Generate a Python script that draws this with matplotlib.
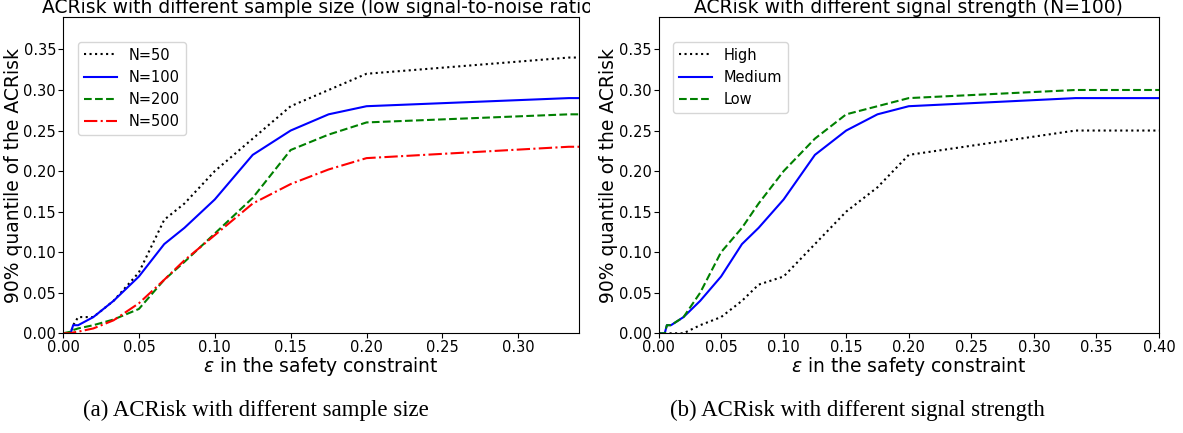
import numpy as np
import matplotlib
matplotlib.use('Agg')
import matplotlib.pyplot as plt
from matplotlib.ticker import FormatStrFormatter
from matplotlib.transforms import Bbox

# epsilon grid used in both experiments
eps = [0.0, 0.005, 0.0067, 0.01, 0.02, 0.0333, 0.05, 0.0667, 0.08, 0.1,
       0.125, 0.15, 0.175, 0.2, 0.3333, 0.4]

# (a) different sample sizes, low signal-to-noise ratio
n50 = [0.0, 0.0, 0.01, 0.02, 0.02, 0.04, 0.075, 0.14, 0.16, 0.2,
       0.24, 0.28, 0.30, 0.32, 0.34, 0.34]
n100 = [0.0, 0.0, 0.01, 0.01, 0.02, 0.04, 0.07, 0.11, 0.13, 0.165,
        0.22, 0.25, 0.27, 0.28, 0.29, 0.29]
n200 = [0.0, 0.002, 0.004, 0.006, 0.01, 0.017, 0.03, 0.066, 0.088, 0.123,
        0.167, 0.226, 0.245, 0.26, 0.27, 0.27]
n500 = [0.0, 0.0, 0.001, 0.002, 0.006, 0.016, 0.037, 0.066, 0.09, 0.121,
        0.16, 0.184, 0.202, 0.216, 0.23, 0.23]

# (b) different signal strengths, N=100
high = [0.0, 0.0, 0.0, 0.0, 0.0, 0.01, 0.02, 0.04, 0.06, 0.07,
        0.11, 0.15, 0.18, 0.22, 0.25, 0.25]
medium = n100
low = [0.0, 0.0, 0.01, 0.01, 0.02, 0.05, 0.10, 0.13, 0.16, 0.20,
       0.24, 0.27, 0.28, 0.29, 0.30, 0.30]

W, H = 1183, 433
fig = plt.figure(figsize=(W / 100, H / 100), dpi=100)

ax1 = fig.add_axes([63 / W, 1 - 333.3 / H, 516 / W, 316.3 / H])
ax2 = fig.add_axes([658.5 / W, 1 - 333.3 / H, 500.5 / W, 316.3 / H])

ax1.plot(eps, n50, 'k:', label='N=50')
ax1.plot(eps, n100, 'b-', label='N=100')
ax1.plot(eps, n200, 'g--', label='N=200')
ax1.plot(eps, n500, 'r-.', label='N=500')
ax1.set_xlim(0, 0.34)
t1 = ax1.set_title('ACRisk with different sample size (low signal-to-noise ratio)',
                   fontsize=13.5, pad=3)
# left panel is cut off where the right one begins
t1.set_clip_box(Bbox([[0, 0], [590, H]]))
t1.set_clip_on(True)

ax2.plot(eps, high, 'k:', label='High')
ax2.plot(eps, medium, 'b-', label='Medium')
ax2.plot(eps, low, 'g--', label='Low')
ax2.set_xlim(0, 0.40)
ax2.set_title('ACRisk with different signal strength (N=100)',
              fontsize=13.5, pad=3)

for ax in (ax1, ax2):
    ax.set_ylim(0, 0.39)
    ax.set_yticks(np.arange(0, 0.36, 0.05))
    ax.tick_params(labelsize=10.5, pad=1.5)
    ax.xaxis.set_major_formatter(FormatStrFormatter('%.2f'))
    ax.yaxis.set_major_formatter(FormatStrFormatter('%.2f'))
    ax.set_xlabel(r'$\epsilon$ in the safety constraint', fontsize=13.5)
    ax.set_ylabel('90% quantile of the ACRisk', fontsize=13.5)
    ax.xaxis.set_label_coords(0.5, -0.068)
    ax.legend(loc='upper left', bbox_to_anchor=(0.0285, 0.922),
              borderaxespad=0, fontsize=10.5, handlelength=2.3)

ax1.yaxis.set_label_coords(-0.078, 0.5)
ax2.yaxis.set_label_coords(-0.081, 0.5)

fig.text(256 / W, 1 - 410 / H, '(a) ACRisk with different sample size',
         family='Liberation Serif', fontsize=16.5, ha='center', va='center')
fig.text(857 / W, 1 - 410 / H, '(b) ACRisk with different signal strength',
         family='Liberation Serif', fontsize=16.5, ha='center', va='center')

fig.savefig('out.png', dpi=100)
